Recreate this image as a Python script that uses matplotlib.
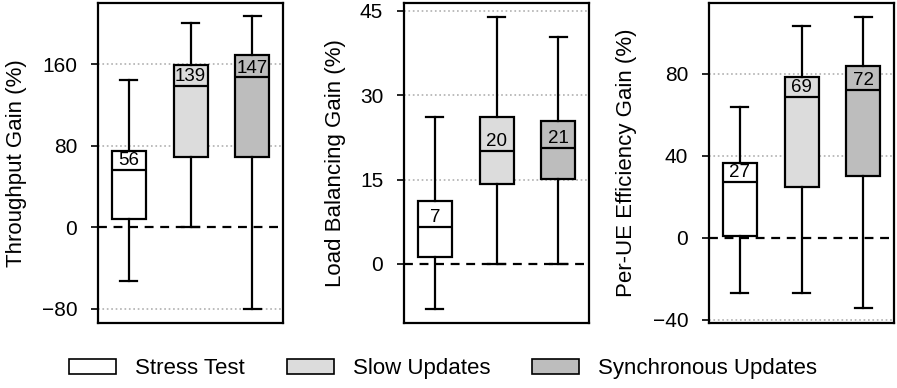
import numpy as np
import matplotlib
matplotlib.use("Agg")
import matplotlib.pyplot as plt
from matplotlib.patches import Patch

plt.rcParams['font.family'] = ['Liberation Sans', 'DejaVu Sans']

# box statistics: (whislo, q1, median, q3, whishi)
scenarios = ['Stress Test', 'Slow Updates', 'Synchronous Updates']
colors = ['#ffffff', '#dcdcdc', '#bdbdbd']

throughput = [[-53, 8, 56, 75, 144],
              [0, 69, 139, 159, 200],
              [-80, 69, 147, 169, 207]]
load_bal = [[-8.0, 1.2, 6.6, 11.2, 26.2],
            [0, 14.2, 20.1, 26.2, 44.0],
            [0, 15.1, 20.6, 25.4, 40.4]]
per_ue = [[-27, 0.7, 27.3, 36.3, 63.7],
          [-27, 24.6, 68.8, 78.3, 103],
          [-34.4, 30, 72, 83.7, 107.6]]

panels = [
    (throughput, 'Throughput Gain (%)', [-80, 0, 80, 160], (-94, 220)),
    (load_bal, 'Load Balancing Gain (%)', [0, 15, 30, 45], (-10.5, 46.4)),
    (per_ue, 'Per-UE Efficiency Gain (%)', [-40, 0, 40, 80], (-41.7, 114.4)),
]
lefts = [0.1093, 0.4504, 0.7904]
label_x = [-0.385, -0.315, -0.39]

fig = plt.figure(figsize=(8.97, 3.88), dpi=100)

for (vals, ylab, yt, ylim), left, lx in zip(panels, lefts, label_x):
    ax = fig.add_axes([left, 0.1675, 0.2064, 0.8247])
    stats = []
    for v in vals:
        stats.append(dict(whislo=v[0], q1=v[1], med=v[2], q3=v[3], whishi=v[4], fliers=[]))
    bp = ax.bxp(stats, positions=[1, 2, 3], widths=0.55, patch_artist=True,
                boxprops=dict(linewidth=1.6, edgecolor='black'),
                medianprops=dict(color='black', linewidth=1.6),
                whiskerprops=dict(linewidth=1.6),
                capprops=dict(linewidth=1.6), showfliers=False)
    for b, c in zip(bp['boxes'], colors):
        b.set_facecolor(c)
    for i, v in enumerate(vals):
        ax.annotate(f'{round(v[2])}', (i + 1, v[2]), xytext=(0, 0.5),
                    textcoords='offset points', ha='center', va='bottom',
                    fontsize=13.5)
    ax.axhline(0, color='black', linestyle='--', linewidth=1.6, dashes=(4, 3), zorder=1)
    for t in yt:
        if t != 0:
            ax.axhline(t, color='#b0b0b0', linestyle=':', linewidth=1.2, zorder=0)
    ax.set_xlim(0.5, 3.5)
    ax.set_ylim(*ylim)
    ax.set_yticks(yt)
    ax.set_xticks([])
    ax.set_ylabel(ylab, fontsize=16)
    ax.yaxis.set_label_coords(lx, 0.5)
    ax.tick_params(axis='y', labelsize=15, width=1.2, length=5, pad=10)
    for s in ax.spines.values():
        s.set_linewidth(1.6)

handles = [Patch(facecolor=c, edgecolor='black', linewidth=1.2) for c in colors]
fig.legend(handles, scenarios, loc='center', bbox_to_anchor=(0.494, 0.05), ncol=3,
           frameon=False, fontsize=16, handlelength=2.1, handleheight=0.68,
           columnspacing=1.9, handletextpad=0.85)

fig.savefig('out.png', dpi=100)
